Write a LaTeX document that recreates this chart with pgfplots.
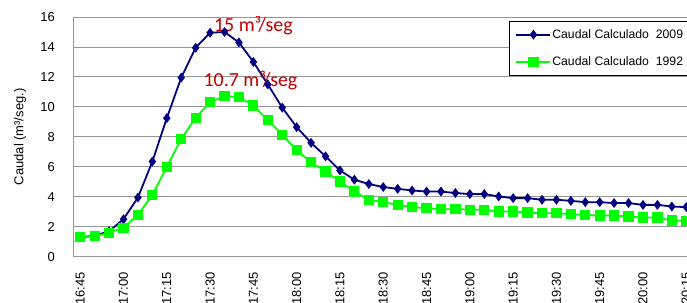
\documentclass[border=0pt]{standalone}
\usepackage{fontspec}
\setmainfont{Liberation Sans}
\newfontfamily\calib{Carlito}
\usepackage{pgfplots}
\pgfplotsset{compat=1.18}
\definecolor{navyb}{RGB}{0,0,128}
\definecolor{limeg}{RGB}{0,255,0}
\definecolor{peakred}{RGB}{192,0,0}
\definecolor{gridg}{RGB}{150,150,150}

\pgfplotstableread{
idx val
0 1.3
1 1.4
2 1.7
3 2.5
4 3.95
5 6.35
6 9.25
7 11.95
8 13.95
9 14.95
10 15.0
11 14.3
12 13.0
13 11.5
14 9.95
15 8.65
16 7.6
17 6.7
18 5.76
19 5.14
20 4.85
21 4.65
22 4.53
23 4.42
24 4.35
25 4.35
26 4.25
27 4.18
28 4.18
29 4.02
30 3.91
31 3.91
32 3.80
33 3.80
34 3.73
35 3.64
36 3.64
37 3.58
38 3.58
39 3.46
40 3.46
41 3.35
42 3.31
}\dataA

\pgfplotstableread{
idx val
0 1.34
1 1.36
2 1.6
3 1.94
4 2.79
5 4.13
6 5.99
7 7.86
8 9.27
9 10.31
10 10.72
11 10.65
12 10.09
13 9.11
14 8.15
15 7.1
16 6.3
17 5.69
18 5.02
19 4.35
20 3.80
21 3.64
22 3.46
23 3.31
24 3.24
25 3.17
26 3.17
27 3.13
28 3.13
29 3.02
30 3.02
31 2.95
32 2.90
33 2.90
34 2.84
35 2.79
36 2.75
37 2.75
38 2.68
39 2.61
40 2.61
41 2.41
42 2.39
}\dataB

\begin{document}
\begin{tikzpicture}
\begin{axis}[
  scale only axis, width=620.5bp, height=239.7bp,
  at={(0,0)}, anchor=south west,
  xmin=-0.5, xmax=42.5, ymin=0, ymax=16,
  xtick={0,3,...,42},
  xticklabels={16:45,17:00,17:15,17:30,17:45,18:00,18:15,18:30,18:45,19:00,19:15,19:30,19:45,20:00,20:15},
  ytick={0,2,...,16},
  ymajorgrids, grid style={gridg, line width=0.9bp},
  axis line style={gridg, line width=0.9bp},
  major tick length=0pt,
  /pgf/number format/assume math mode=true,
  yticklabel style={font=\fontsize{13}{15}\selectfont, inner sep=0pt, anchor=east, xshift=-18bp},
  xticklabel style={font=\fontsize{13}{15}\selectfont, inner sep=0pt, yshift=-15.5bp, rotate=90, anchor=east},
  ylabel={Caudal (m³/seg.)},
  every axis y label/.style={at={(axis description cs:-0.0854,0.5)}, rotate=90, anchor=center, font=\fontsize{13}{15}\selectfont},
  legend style={at={(rel axis cs:0.7027,0.9833)}, anchor=north west, draw=black, line width=1bp,
    font=\fontsize{12.3}{14}\selectfont, inner xsep=6bp, inner ysep=7bp, row sep=15bp,
    nodes={inner sep=1bp}},
  legend cell align=left,
  legend image code/.code={\draw[mark repeat=2,mark phase=2,#1] plot coordinates {(0bp,0bp) (17bp,0bp) (34bp,0bp)};},
]
\addplot[navyb, line width=1.8bp, mark=diamond*, mark size=3.5bp, mark options={solid, fill=navyb}] table[x=idx,y=val] {\dataA};
\addlegendentry{Caudal Calculado\ \ 2009}
\addplot[limeg, line width=1.8bp, mark=square*, mark size=4.2bp, mark options={solid, fill=limeg}] table[x=idx,y=val] {\dataB};
\addlegendentry{Caudal Calculado\ \ 1992}
\node[anchor=base, text=peakred, font=\calib\fontsize{20}{22}\selectfont] at (axis cs:12,15.05) {15 m³/seg};
\node[anchor=base, text=peakred, font=\calib\fontsize{20}{22}\selectfont] at (axis cs:11.8,11.35) {10.7 m³/seg};
\end{axis}
\pgfresetboundingbox
\path[use as bounding box] (-73bp,-46.3bp) rectangle (614bp,256.7bp);
\end{tikzpicture}
\end{document}
